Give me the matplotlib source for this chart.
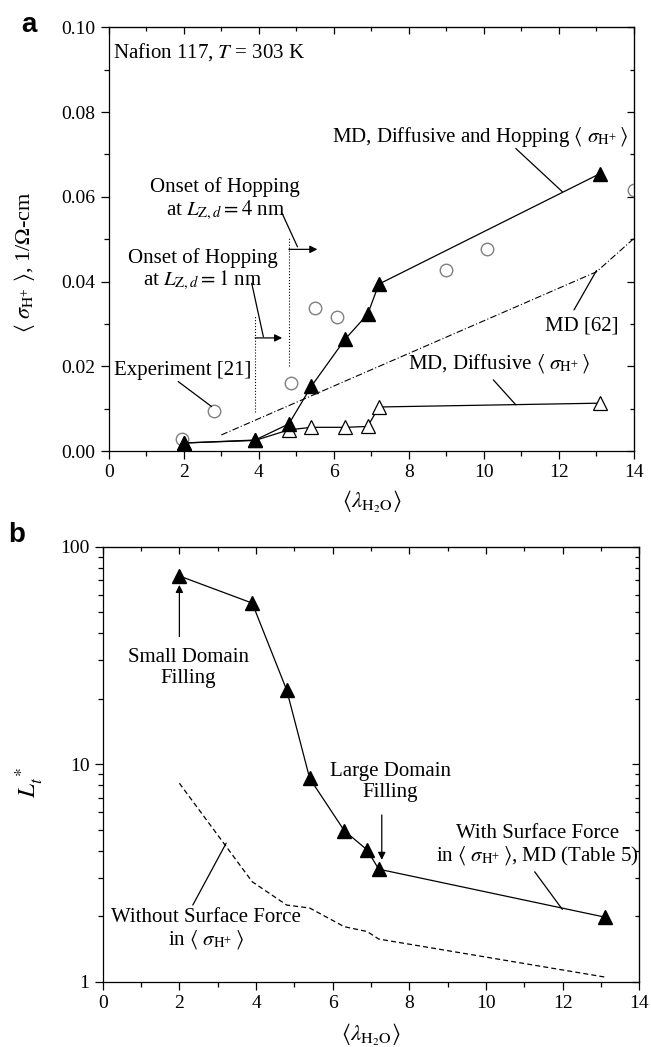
#! /usr/bin/env python3

"""Proton conductivity and transport length versus water content."""

import matplotlib
matplotlib.use('Agg')
import matplotlib.pyplot as plt
from matplotlib.ticker import MultipleLocator, FixedLocator, NullFormatter

plt.rcParams['font.family'] = ['Liberation Serif', 'DejaVu Serif']
plt.rcParams['mathtext.fontset'] = 'stix'
plt.rcParams['font.size'] = 15

# --- panel a data ---
lam_md = [2.0, 3.9, 4.8, 5.4, 6.3, 6.9, 7.2, 13.1]
sigma_hop = [0.0019, 0.0026, 0.0064, 0.0153, 0.0264, 0.0323, 0.0394, 0.0655]
sigma_diff = [0.0019, 0.0025, 0.0050, 0.0056, 0.0056, 0.0058, 0.0104, 0.0113]

lam_exp = [1.95, 2.8, 4.85, 5.5, 6.08, 9.0, 10.08, 14.0]
sigma_exp = [0.0028, 0.0094, 0.0160, 0.0337, 0.0316, 0.0427, 0.0477, 0.0617]

lam_md62 = [3.0, 13.0, 14.0]
sigma_md62 = [0.0038, 0.0423, 0.0502]

# --- panel b data ---
lam_lt = [2.0, 3.9, 4.8, 5.4, 6.3, 6.9, 7.2, 13.1]
lt_with = [73.3, 55.0, 21.9, 8.6, 4.95, 4.03, 3.29, 1.98]
lt_without = [8.17, 2.88, 2.25, 2.18, 1.79, 1.70, 1.57, 1.05]

x_ticks = [0, 2, 4, 6, 8, 10, 12, 14]

SIG = r'$\langle\ \sigma_{\mathrm{H}^{+}}\,\rangle$'
LAM = r'$\langle\lambda_{\mathrm{H_2O}}\rangle$'


def style_axes(ax, log=False):
    """Outward ticks left/bottom, inward ticks top/right."""
    ax.set_xlim(0, 14)
    ax.xaxis.set_major_locator(FixedLocator(x_ticks))
    ax.xaxis.set_minor_locator(MultipleLocator(1))
    ax.tick_params(which='both', direction='out', labelsize=14, width=0.9)
    ax.tick_params(which='major', length=6)
    ax.tick_params(which='minor', length=3.5)
    for sp in ax.spines.values():
        sp.set_linewidth(0.9)

    top = ax.secondary_xaxis('top')
    top.xaxis.set_major_locator(FixedLocator(x_ticks))
    top.xaxis.set_minor_locator(MultipleLocator(1))
    top.tick_params(which='both', direction='in', labeltop=False, width=0.9)
    top.tick_params(which='major', length=5)
    top.tick_params(which='minor', length=3)

    right = ax.secondary_yaxis('right')
    if not log:
        right.yaxis.set_major_locator(MultipleLocator(0.02))
        right.yaxis.set_minor_locator(MultipleLocator(0.01))
    right.yaxis.set_minor_formatter(NullFormatter())
    right.tick_params(which='both', direction='in', labelright=False, width=0.9)
    right.tick_params(which='major', length=5)
    right.tick_params(which='minor', length=3)


def leader(ax, p0, p1):
    ax.annotate('', xy=p1, xytext=p0,
                arrowprops=dict(arrowstyle='-', color='k', lw=0.9,
                                shrinkA=0, shrinkB=0))


def arrow(ax, p0, p1):
    ax.annotate('', xy=p1, xytext=p0,
                arrowprops=dict(arrowstyle='-|>', color='k', lw=0.9,
                                mutation_scale=11, shrinkA=0, shrinkB=0))


fig = plt.figure(figsize=(6.51, 10.47), dpi=100)

# Panel a
ax = fig.add_axes([0.1671, 0.5692, 0.8068, 0.4047])
ax.plot(lam_exp, sigma_exp, 'o', mfc='none', mec='#808080', ms=9, mew=1.0)
ax.plot(lam_md62, sigma_md62, color='k', lw=0.8, ls=(0, (6, 2, 1, 2)))
ax.plot(lam_md, sigma_diff, '^-', color='k', mfc='white', mec='k',
        ms=10, mew=0.9, lw=0.9)
ax.plot(lam_md, sigma_hop, '^-', color='k', ms=10, lw=0.9)

style_axes(ax)
ax.set_ylim(0, 0.10)
ax.yaxis.set_major_locator(MultipleLocator(0.02))
ax.yaxis.set_minor_locator(MultipleLocator(0.01))
ax.yaxis.set_major_formatter(plt.FuncFormatter(lambda v, p: f'{v:.2f}'))

ax.set_xlabel(LAM, fontsize=16.5)
ax.xaxis.set_label_coords(0.5, -0.09)
ax.set_ylabel(r'$\langle\ \sigma_{\mathrm{H}^{+}}\ \rangle$, 1/$\Omega$-cm',
              fontsize=16)
ax.yaxis.set_label_coords(-0.137, 0.446)

ax.text(0.12, 0.0942, r'Nafion 117, $T$ = 303 K', va='center', ha='left')

ax.text(9.9, 0.0742, 'MD, Diffusive and Hopping ' + SIG, ha='center', va='center')
leader(ax, (10.85, 0.0714), (12.09, 0.0612))

ax.text(3.1, 0.0593, 'Onset of Hopping\n' + r'at $L_{\mathrm{Z},d} = 4$ nm',
        ha='center', va='center', linespacing=1.1)
leader(ax, (4.62, 0.0561), (5.03, 0.0482))
ax.plot([4.8, 4.8], [0.0201, 0.0505], color='k', lw=0.8, ls=':')
arrow(ax, (4.8, 0.0476), (5.56, 0.0476))

ax.text(2.5, 0.0427, 'Onset of Hopping\n' + r'at $L_{\mathrm{Z},d} = 1$ nm',
        ha='center', va='center', linespacing=1.1)
leader(ax, (3.81, 0.0396), (4.12, 0.0270))
ax.plot([3.9, 3.9], [0.0093, 0.0319], color='k', lw=0.8, ls=':')
arrow(ax, (3.9, 0.0267), (4.62, 0.0267))

ax.text(1.97, 0.0191, 'Experiment [21]', ha='center', va='center')
leader(ax, (1.85, 0.0164), (2.74, 0.0105))

ax.text(12.62, 0.0295, 'MD [62]', ha='center', va='center')
leader(ax, (12.4, 0.0333), (13.0, 0.0426))

ax.text(10.41, 0.0207, 'MD, Diffusive ' + SIG, ha='center', va='center')
leader(ax, (10.25, 0.0168), (10.85, 0.0109))

# Panel b
bx = fig.add_axes([0.1578, 0.0624, 0.8243, 0.4155])
bx.plot(lam_lt, lt_without, color='k', lw=0.9, ls=(0, (4, 2.5)))
bx.plot(lam_lt, lt_with, '^-', color='k', ms=10, lw=0.9)
bx.set_yscale('log')
bx.set_ylim(1, 100)
style_axes(bx, log=True)
bx.yaxis.set_major_formatter(plt.FuncFormatter(lambda v, p: f'{v:g}'))
bx.yaxis.set_minor_formatter(NullFormatter())

bx.set_xlabel(LAM, fontsize=16.5)
bx.xaxis.set_label_coords(0.5, -0.093)
bx.set_ylabel(r'$L_t^{\,*}$', fontsize=18)
bx.yaxis.set_label_coords(-0.1075, 0.457)

bx.text(2.24, 27.7, 'Small Domain\nFilling', ha='center', va='center',
        linespacing=1.1)
arrow(bx, (2.0, 38.6), (2.0, 66.7))

bx.text(7.5, 8.28, 'Large Domain\nFilling', ha='center', va='center',
        linespacing=1.1)
arrow(bx, (7.28, 5.84), (7.28, 3.63))

bx.text(11.35, 4.2, 'With Surface Force\nin ' + SIG + ', MD (Table 5)',
        ha='center', va='center', linespacing=1.1)
leader(bx, (11.27, 3.2), (11.99, 2.15))

bx.text(2.7, 1.74, 'Without Surface Force\nin ' + SIG,
        ha='center', va='center', linespacing=1.1)
leader(bx, (2.35, 2.25), (3.22, 4.33))

fig.text(29 / 651, 1 - 25 / 1047, 'a', family='Liberation Sans',
         weight='bold', fontsize=20, ha='center', va='center')
fig.text(17 / 651, 1 - 535 / 1047, 'b', family='Liberation Sans',
         weight='bold', fontsize=20, ha='center', va='center')

fig.savefig('out.png', dpi=100)
